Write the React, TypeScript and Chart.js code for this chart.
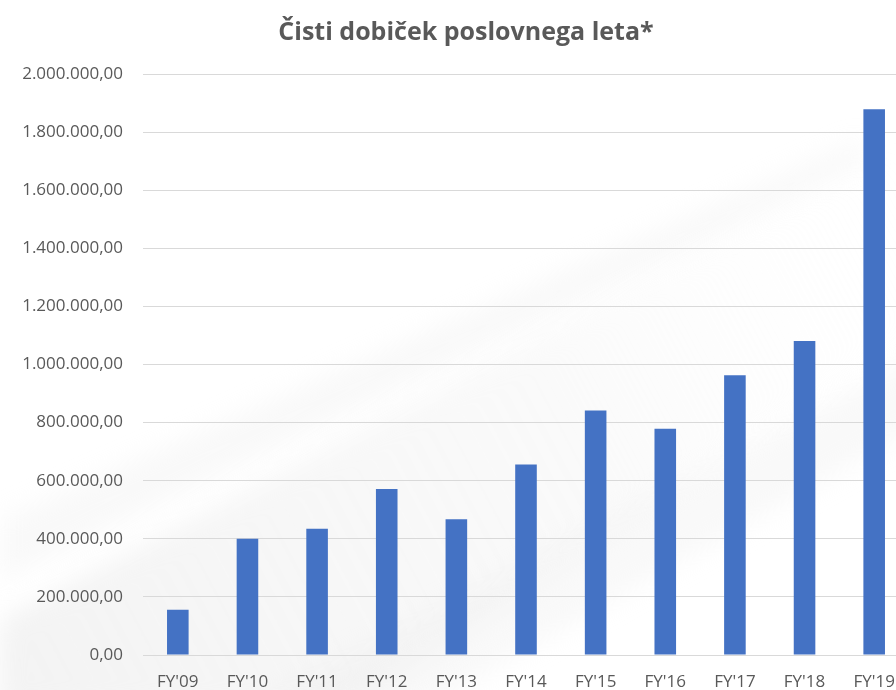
import React, { useEffect, useRef } from "react";
import { Chart, registerables } from "chart.js";

Chart.register(...registerables);

const categories = ["FY'09", "FY'10", "FY'11", "FY'12", "FY'13", "FY'14", "FY'15", "FY'16", "FY'17", "FY'18", "FY'19"];
const netProfit = [156000, 400000, 435000, 571000, 467000, 656000, 842000, 779000, 963000, 1081000, 1879000];
const titleText = "Čisti dobiček poslovnega leta*";
const yMin = 0;
const yMax = 2000000;
const yStep = 200000;

const W = 932;
const H = 700;

function fmt(v: number): string {
  const fixed = Math.abs(v).toFixed(2);
  const [intPart, dec] = fixed.split(".");
  const withDots = intPart.replace(/\B(?=(\d{3})+(?!\d))/g, ".");
  return (v < 0 ? "-" : "") + withDots + "," + dec;
}

const bgPlugin = {
  id: "bgStreaks",
  beforeDraw(chart: any) {
    const ctx = chart.ctx;
    ctx.save();
    ctx.fillStyle = "#ffffff";
    ctx.fillRect(0, 0, chart.width, chart.height);
    ctx.filter = "blur(12px)";
    const g = ctx.createLinearGradient(0, chart.height, chart.width, 200);
    g.addColorStop(0, "rgba(228,228,228,0.45)");
    g.addColorStop(0.6, "rgba(238,238,238,0.3)");
    g.addColorStop(1, "rgba(255,255,255,0)");
    ctx.fillStyle = g;
    ctx.beginPath();
    ctx.moveTo(0, 620);
    ctx.lineTo(930, 130);
    ctx.lineTo(930, 320);
    ctx.lineTo(350, 710);
    ctx.lineTo(0, 710);
    ctx.closePath();
    ctx.fill();
    ctx.fillStyle = "rgba(232,232,232,0.25)";
    ctx.beginPath();
    ctx.moveTo(0, 520);
    ctx.lineTo(860, 140);
    ctx.lineTo(870, 160);
    ctx.lineTo(0, 580);
    ctx.closePath();
    ctx.fill();
    ctx.fillStyle = "rgba(235,235,235,0.3)";
    ctx.beginPath();
    ctx.moveTo(250, 710);
    ctx.lineTo(930, 350);
    ctx.lineTo(930, 420);
    ctx.lineTo(420, 710);
    ctx.closePath();
    ctx.fill();
    ctx.restore();
  },
};

const titlePlugin = {
  id: "centeredTitle",
  afterDraw(chart: any) {
    const ctx = chart.ctx;
    ctx.save();
    ctx.fillStyle = "#595959";
    ctx.font = "bold 25px 'Open Sans'";
    ctx.textAlign = "center";
    ctx.textBaseline = "middle";
    ctx.fillText(titleText, W / 2, 33);
    ctx.restore();
  },
};

export default function App() {
  const ref = useRef<HTMLCanvasElement | null>(null);

  useEffect(() => {
    document.body.style.margin = "0";
    document.body.style.overflow = "hidden";
    if (!ref.current) return;
    const chart = new Chart(ref.current, {
      type: "bar",
      data: {
        labels: categories,
        datasets: [
          {
            data: netProfit,
            backgroundColor: "#4472C4",
            borderWidth: 0,
            barPercentage: 0.62,
            categoryPercentage: 0.5,
          },
        ],
      },
      options: {
        animation: false,
        responsive: false,
        maintainAspectRatio: false,
        devicePixelRatio: 1,
        layout: { padding: { left: 0, right: 23, top: 74, bottom: 0 } },
        plugins: {
          legend: { display: false },
          tooltip: { enabled: false },
          title: { display: false },
        },
        scales: {
          x: {
            grid: { display: false, drawTicks: false },
            border: { display: false },
            ticks: {
              color: "#595959",
              font: { family: "Open Sans", size: 17 },
              padding: 17,
              maxRotation: 0,
              autoSkip: false,
            },
            afterFit(scale: any) {
              scale.height = H - 655;
            },
          },
          y: {
            min: yMin,
            max: yMax,
            grid: { color: "#d9d9d9", lineWidth: 1, drawTicks: false },
            border: { display: false },
            ticks: {
              stepSize: yStep,
              color: "#595959",
              font: { family: "Open Sans", size: 17 },
              padding: 20,
              callback: (v: any) => fmt(Number(v)),
            },
            afterFit(scale: any) {
              scale.width = 143;
            },
          },
        },
      },
      plugins: [bgPlugin, titlePlugin],
    });
    return () => chart.destroy();
  }, []);

  return (
    <div style={{ width: 896, height: 690, overflow: "hidden", position: "relative" }}>
      <canvas ref={ref} width={W} height={H} style={{ width: W, height: H, display: "block" }} />
    </div>
  );
}
